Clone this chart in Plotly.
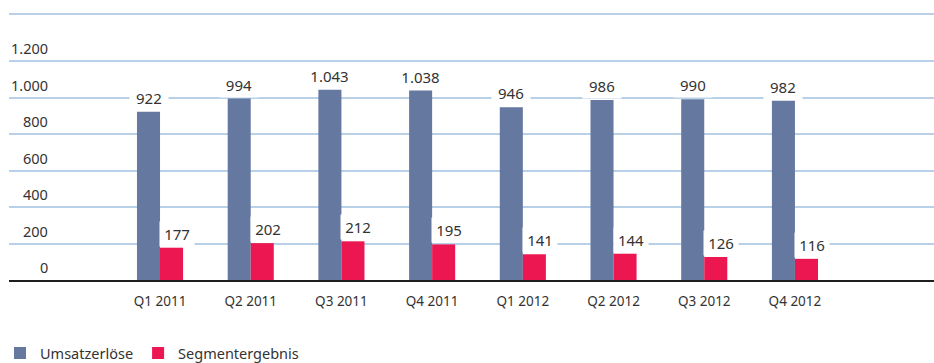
import plotly.graph_objects as go

# Quarterly figures (EUR million)
quarters = ["Q1 2011", "Q2 2011", "Q3 2011", "Q4 2011",
            "Q1 2012", "Q2 2012", "Q3 2012", "Q4 2012"]
umsatz = [922, 994, 1043, 1038, 946, 986, 990, 982]
segment = [177, 202, 212, 195, 141, 144, 126, 116]
y_ticks = [0, 200, 400, 600, 800, 1000, 1200]

BLUE = "#6578A0"
RED = "#EC1651"
GRID = "#B8D0E8"
TEXT = "#333333"
FONT = "Noto Sans"

PLOT_LEFT, PLOT_W = 9, 934 - 9


def fmt(v):
    return f"{v:,}".replace(",", ".")


fig = go.Figure()
fig.add_trace(go.Bar(x=quarters, y=umsatz, name="Umsatzerlöse",
                     marker=dict(color=BLUE, line=dict(width=0))))
fig.add_trace(go.Bar(x=quarters, y=segment, name="Segmentergebnis",
                     marker=dict(color=RED, line=dict(width=0))))

# value labels on white boxes that break the grid lines
for i in range(len(quarters)):
    txt = fmt(umsatz[i])
    fig.add_annotation(
        x=i - 0.127, y=umsatz[i], xref="x", yref="y", text=txt,
        showarrow=False, yanchor="bottom", xanchor="center", yshift=1,
        bgcolor="white", borderpad=2, width=len(txt) * 8.6 + 8,
        font=dict(family=FONT, size=15, color=TEXT),
    )
    txt = fmt(segment[i])
    fig.add_annotation(
        x=i + 0.187, y=segment[i], xref="x", yref="y", text=txt,
        showarrow=False, yanchor="bottom", xanchor="center", yshift=1,
        bgcolor="white", borderpad=2, width=30,
        font=dict(family=FONT, size=15, color=TEXT),
    )

# y tick labels sitting above their grid lines
for t in y_ticks:
    fig.add_annotation(
        x=(50 - PLOT_LEFT) / PLOT_W, y=t, xref="paper", yref="y",
        text=fmt(t), showarrow=False, xanchor="right", yanchor="middle",
        yshift=13, font=dict(family=FONT, size=14.5, color=TEXT),
    )

# decorative top rule
fig.add_shape(type="line", xref="paper", yref="paper", x0=0, x1=1, y0=1, y1=1,
              line=dict(color=GRID, width=2), layer="below")

fig.update_layout(
    width=934, height=363,
    margin=dict(l=PLOT_LEFT, r=0, t=14, b=83, autoexpand=False),
    paper_bgcolor="white", plot_bgcolor="white",
    barmode="group", bargap=0.492, bargroupgap=0,
    font=dict(family=FONT, size=14, color=TEXT),
    showlegend=True,
    legend=dict(orientation="h", x=0, xref="container", xanchor="left",
                y=0.027, yref="container", yanchor="middle",
                font=dict(family=FONT, size=14.5, color=TEXT),
                itemclick=False, itemdoubleclick=False),
    xaxis=dict(type="category", range=[-1.665, 8.533], showgrid=False,
               showline=True, linecolor="#1E1E1E", linewidth=2,
               ticks="", ticklabelstandoff=8, automargin=False,
               tickfont=dict(family=FONT, size=13.5, color=TEXT)),
    yaxis=dict(range=[0, 1457.5], tickvals=y_ticks, showticklabels=False,
               showgrid=True, gridcolor=GRID, gridwidth=2, automargin=False,
               zeroline=False, showline=False),
)

fig.write_html("out.html")
